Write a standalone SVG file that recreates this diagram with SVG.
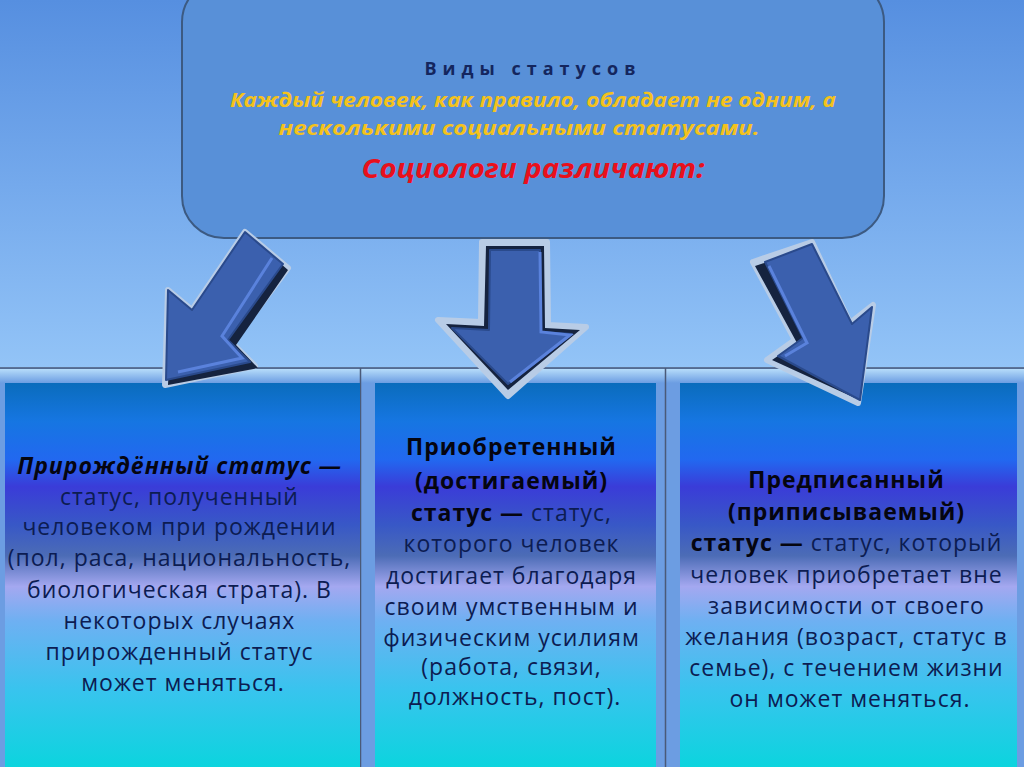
<svg xmlns="http://www.w3.org/2000/svg" width="1024" height="767" viewBox="0 0 1024 767">
  <defs>
    <linearGradient id="sky" x1="0" y1="0" x2="0" y2="1">
      <stop offset="0" stop-color="#568fe0"/>
      <stop offset="0.5" stop-color="#74a9ec"/>
      <stop offset="1" stop-color="#93c4f7"/>
    </linearGradient>
    <linearGradient id="col" x1="0" y1="383" x2="0" y2="767" gradientUnits="userSpaceOnUse">
      <stop offset="0" stop-color="#0a6cbc"/>
      <stop offset="0.1" stop-color="#1676e2"/>
      <stop offset="0.2" stop-color="#2268f0"/>
      <stop offset="0.27" stop-color="#3a3cd8"/>
      <stop offset="0.37" stop-color="#3858c6"/>
      <stop offset="0.45" stop-color="#4c6cb6"/>
      <stop offset="0.53" stop-color="#a4a8f0"/>
      <stop offset="0.62" stop-color="#6eb0f2"/>
      <stop offset="0.8" stop-color="#38c4ee"/>
      <stop offset="1" stop-color="#0cd4de"/>
    </linearGradient>
    <linearGradient id="frameTop" x1="0" y1="0" x2="0" y2="1">
      <stop offset="0" stop-color="#b6dcfa"/>
      <stop offset="1" stop-color="#6c9de2"/>
    </linearGradient>
  </defs>
  <style>
    .body { font-family: "Open Sans", "Noto Sans", sans-serif; font-size: 23px; letter-spacing: 1px; fill: #0c1c52; text-anchor: middle; }
    .b { font-weight: bold; fill: #050510; }
    .hdr { font-family: "Open Sans", "Liberation Sans", sans-serif; font-weight: bold; text-anchor: middle; }
    .yel { font-size: 20px; font-style: italic; fill: #f4c21c; }
    .arrow-out { fill: #b8cce6; stroke: #b8cce6; stroke-width: 6; stroke-linejoin: round; }
    .arrow-dark { fill: #15233f; }
    .arrow-face { fill: #3b60ae; stroke: #2a4a8c; stroke-width: 2; stroke-linejoin: round; }
    .arrow-hl { fill: none; stroke: #5a82dc; stroke-width: 3; }
    .divider { stroke: #4a5a78; stroke-width: 1.5; }
  </style>

  <!-- background -->
  <rect x="0" y="0" width="1024" height="368" fill="url(#sky)"/>
  <rect x="0" y="368" width="1024" height="399" fill="#6c9de2"/>
  <rect x="0" y="369" width="1024" height="14" fill="url(#frameTop)"/>
  <line x1="0" y1="368" x2="1024" y2="368" class="divider"/>
  <line x1="360.5" y1="368" x2="360.5" y2="767" class="divider"/>
  <line x1="665.5" y1="368" x2="665.5" y2="767" class="divider"/>

  <!-- header node -->
  <g id="header">
    <rect x="182" y="-20" width="702" height="258" rx="42" ry="42" fill="#5890d8" stroke="#3c5a82" stroke-width="2"/>
    <text x="533" y="75" class="hdr" font-size="18" letter-spacing="6" fill="#14265e">Виды статусов</text>
    <text x="533" y="107" class="hdr yel" textLength="606" lengthAdjust="spacingAndGlyphs">Каждый человек, как правило, обладает не одним, а</text>
    <text x="519" y="135" class="hdr yel" textLength="481" lengthAdjust="spacingAndGlyphs">несколькими социальными статусами.</text>
    <text x="533" y="178" class="hdr" font-size="27" font-style="italic" fill="#e8101c" textLength="343" lengthAdjust="spacingAndGlyphs">Социологи различают:</text>
  </g>

  <!-- column nodes -->
  <g id="innate-status">
    <rect x="5" y="383" width="355" height="384" fill="url(#col)"/>
    <text class="body">
      <tspan x="183" y="474" class="b" font-style="italic">Прирождённый статус —</tspan>
      <tspan x="183" y="505">статус, полученный</tspan>
      <tspan x="183" y="535">человеком при рождении</tspan>
      <tspan x="183" y="566">(пол, раса, национальность,</tspan>
      <tspan x="183" y="598">биологическая страта). В</tspan>
      <tspan x="183" y="629">некоторых случаях</tspan>
      <tspan x="183" y="660">прирожденный статус</tspan>
      <tspan x="183" y="691">может меняться.</tspan>
    </text>
  </g>

  <g id="achieved-status">
    <rect x="375" y="383" width="281" height="384" fill="url(#col)"/>
    <text class="body">
      <tspan x="515" y="455" class="b">Приобретенный</tspan>
      <tspan x="515" y="489" class="b">(достигаемый)</tspan>
      <tspan x="515" y="521"><tspan class="b">статус —</tspan> статус,</tspan>
      <tspan x="515" y="552">которого человек</tspan>
      <tspan x="515" y="584">достигает благодаря</tspan>
      <tspan x="515" y="615">своим умственным и</tspan>
      <tspan x="515" y="646">физическим усилиям</tspan>
      <tspan x="515" y="675">(работа, связи,</tspan>
      <tspan x="515" y="705">должность, пост).</tspan>
    </text>
  </g>

  <g id="ascribed-status">
    <rect x="680" y="383" width="337" height="384" fill="url(#col)"/>
    <text class="body">
      <tspan x="850" y="488" class="b">Предписанный</tspan>
      <tspan x="850" y="520" class="b">(приписываемый)</tspan>
      <tspan x="850" y="551"><tspan class="b">статус —</tspan> статус, который</tspan>
      <tspan x="850" y="583">человек приобретает вне</tspan>
      <tspan x="850" y="614">зависимости от своего</tspan>
      <tspan x="850" y="645">желания (возраст, статус в</tspan>
      <tspan x="850" y="676">семье), с течением жизни</tspan>
      <tspan x="850" y="707">он может меняться.</tspan>
    </text>
  </g>

  <!-- connectors: block arrows -->
  <g id="connectors">
    <g id="arrow-left">
      <polygon class="arrow-out" points="245,232 288,268 232,343 255,366 165,385 168,290 192,310"/>
      <polygon class="arrow-dark" points="250,237 288,270 236,345 258,368 168,385 172,295 196,313"/>
      <polygon class="arrow-face" points="245,232 283,264 228,340 250,362 166,380 168,290 192,310"/>
      <polyline class="arrow-hl" points="272,258 222,336 242,358 178,372"/>
    </g>
    <g id="arrow-middle">
      <polygon class="arrow-out" points="482,242 547,242 548,325 586,327 508,396 438,320 481,322"/>
      <polygon class="arrow-dark" points="486,246 544,246 545,328 580,330 508,390 446,324 484,326"/>
      <polygon class="arrow-face" points="490,250 540,250 541,332 572,334 508,384 452,328 489,330"/>
      <polyline class="arrow-hl" points="540,252 541,332 570,335 510,382"/>
    </g>
    <g id="arrow-right">
      <polygon class="arrow-out" points="753,262 812,242 850,323 873,305 858,403 767,360 795,340"/>
      <polygon class="arrow-dark" points="755,266 806,249 845,330 868,314 855,398 772,360 797,343"/>
      <polygon class="arrow-face" points="765,262 812,244 852,324 872,307 860,400 778,356 803,338"/>
      <polyline class="arrow-hl" points="769,266 807,343 785,356"/>
    </g>
  </g>
</svg>
